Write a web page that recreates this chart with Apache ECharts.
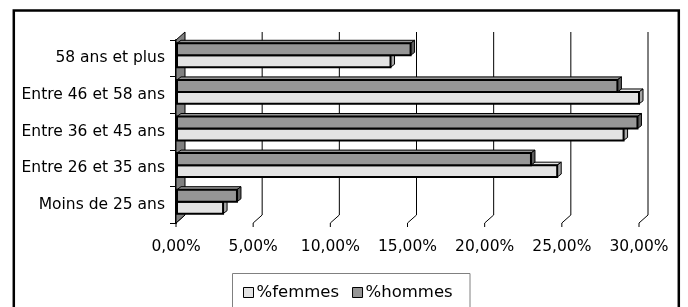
<!DOCTYPE html>
<html>
<head>
<meta charset="utf-8">
<script src="https://cdn.jsdelivr.net/npm/echarts@6/dist/echarts.min.js"></script>
<style>
  html, body { margin: 0; padding: 0; background: #fff; }
  #chart { width: 688px; height: 307px; }
</style>
</head>
<body>
<div id="chart"></div>
<script>
const categories = ['Moins de 25 ans', 'Entre 26 et 35 ans', 'Entre 36 et 45 ans', 'Entre 46 et 58 ans', '58 ans et plus'];
const femmes = [3.05, 24.7, 29.0, 30.0, 13.9];
const hommes = [3.95, 23.0, 29.9, 28.6, 15.2];
const xTicks = [0, 5, 10, 15, 20, 25, 30];

const font = 'DejaVu Sans';
const gridLeft = 176, gridRight = 49, gridTop = 40, gridBottom = 84;
const depthX = 9, depthY = 8;

// 3D-looking bar: front face, top face and right side face
function barRenderer(fromFrac, toFrac, front, side) {
  return (params, api) => {
    const c = api.value(1);
    const p0 = api.coord([0, c]);
    const p1 = api.coord([api.value(0), c]);
    const band = api.size([0, 1])[1];
    const y0 = p0[1] + band * fromFrac;
    const y1 = p0[1] + band * toFrac;
    const x0 = p0[0] + 1, x1 = p1[0];
    const d = 4, e = 3;
    return {
      type: 'group',
      children: [
        { type: 'polygon', shape: { points: [[x0, y0], [x0 + d, y0 - e], [x1 + d, y0 - e], [x1, y0]] },
          style: { fill: front, stroke: '#000', lineWidth: 1 } },
        { type: 'polygon', shape: { points: [[x1, y0], [x1 + d, y0 - e], [x1 + d, y1 - e], [x1, y1]] },
          style: { fill: side, stroke: '#000', lineWidth: 1 } },
        { type: 'rect', shape: { x: x0, y: y0, width: x1 - x0, height: y1 - y0 },
          style: { fill: front, stroke: '#000', lineWidth: 2 } },
      ],
    };
  };
}

const chart = echarts.init(document.getElementById('chart'));

chart.setOption({
  backgroundColor: '#fff',
  animation: false,
  textStyle: { fontFamily: font, color: '#000' },
  legend: {
    left: 238,
    top: 279,
    itemWidth: 10,
    itemHeight: 10,
    itemGap: 13,
    textStyle: { fontFamily: font, fontSize: 16.5, color: '#000', padding: [0, 0, 0, -2] },
    data: [
      { name: '%femmes', icon: 'rect', itemStyle: { color: '#e3e3e3', borderColor: '#000', borderWidth: 1 } },
      { name: '%hommes', icon: 'rect', itemStyle: { color: '#969696', borderColor: '#000', borderWidth: 1 } },
    ],
  },
  grid: { left: gridLeft, right: gridRight, top: gridTop, bottom: gridBottom },
  xAxis: {
    type: 'value',
    min: 0,
    max: 30,
    interval: 5,
    axisLine: { show: false },
    axisTick: { show: false },
    splitLine: { show: false },
    axisLabel: {
      margin: 16,
      fontSize: 15.5,
      color: '#000',
      formatter: (v) => v.toFixed(2).replace('.', ',') + '%',
    },
  },
  yAxis: {
    type: 'category',
    data: categories,
    axisLine: { show: true, lineStyle: { color: '#000', width: 2 } },
    axisTick: { show: true, length: 6, lineStyle: { color: '#000', width: 1 } },
    axisLabel: { margin: 11, fontSize: 15.5, color: '#000' },
  },
  series: [
    {
      name: '%femmes',
      type: 'custom',
      z: 5,
      itemStyle: { color: '#e3e3e3' },
      encode: { x: 0, y: 1 },
      renderItem: barRenderer(-0.08, 0.245, '#e3e3e3', '#a6a6a6'),
      data: femmes.map((v, i) => [v, i]),
    },
    {
      name: '%hommes',
      type: 'custom',
      z: 6,
      itemStyle: { color: '#969696' },
      encode: { x: 0, y: 1 },
      renderItem: barRenderer(-0.41, -0.08, '#969696', '#5f5f5f'),
      data: hommes.map((v, i) => [v, i]),
    },
  ],
});

// back wall grid lines, floor edges and left wall, placed from the axis scale
const yFront = 307 - gridBottom;
const yBackTop = gridTop - depthY;
const yBackBottom = yFront - depthY;
const x0 = chart.convertToPixel({ xAxisIndex: 0 }, 0);
const deco = [];
xTicks.forEach((t) => {
  const x = chart.convertToPixel({ xAxisIndex: 0 }, t);
  if (t > 0) {
    deco.push({ type: 'line', z: 1, shape: { x1: x + depthX, y1: yBackTop, x2: x + depthX, y2: yBackBottom },
      style: { stroke: '#000', lineWidth: 1 } });
  }
  deco.push({ type: 'polyline', z: 1, shape: { points: [[x + depthX, yBackBottom], [x, yFront], [x, yFront + 4]] },
    style: { stroke: '#000', lineWidth: 1, fill: null } });
});
deco.push({ type: 'polygon', z: 2,
  shape: { points: [[x0, gridTop], [x0 + depthX, yBackTop], [x0 + depthX, yBackBottom], [x0, yFront]] },
  style: { fill: '#808080', stroke: '#000', lineWidth: 1 } });
// outer chart frame and legend frame
deco.push({ type: 'rect', z: 0, shape: { x: 13.8, y: 10.5, width: 665, height: 320 },
  style: { fill: null, stroke: '#000', lineWidth: 2.5 } });
deco.push({ type: 'rect', z: 0, shape: { x: 232.5, y: 273.5, width: 237.5, height: 60 },
  style: { fill: null, stroke: '#808080', lineWidth: 1 } });

chart.setOption({ graphic: { elements: deco } });
</script>
</body>
</html>
